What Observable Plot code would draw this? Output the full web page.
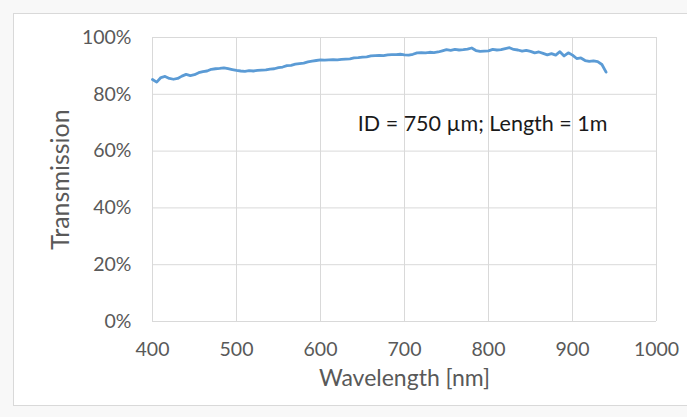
<!DOCTYPE html>
<html>
<head>
<meta charset="utf-8">
<script src="https://cdn.jsdelivr.net/npm/d3@7"></script>
<script src="https://cdn.jsdelivr.net/npm/@observablehq/plot@0.6"></script>
<style>
  html, body { margin: 0; padding: 0; width: 687px; height: 417px; overflow: hidden; background: #f8f8f8; }
  #panel { position: absolute; left: 13px; top: 13px; width: 700px; height: 393px; background: #fff; border: 1px solid #d9d9d9; box-sizing: border-box; }
  #chart { position: absolute; left: 0; top: 0; }
</style>
</head>
<body>
<div id="panel"></div>
<div id="chart"></div>
<script>
const wavelengths = [400,405,410,415,420,425,430,435,440,445,450,455,460,465,470,475,480,485,490,495,
  500,505,510,515,520,525,530,535,540,545,550,555,560,565,570,575,580,585,590,595,
  600,605,610,615,620,625,630,635,640,645,650,655,660,665,670,675,680,685,690,695,
  700,705,710,715,720,725,730,735,740,745,750,755,760,765,770,775,780,785,790,795,
  800,805,810,815,820,825,830,835,840,845,850,855,860,865,870,875,880,885,890,895,
  900,905,910,915,920,925,930,935,940];
const transmission = [85.2,84.3,85.9,86.3,85.6,85.3,85.6,86.4,87.0,86.6,86.9,87.6,88.0,88.2,88.8,89.0,89.1,89.3,89.0,88.7,
  88.4,88.2,88.1,88.3,88.2,88.4,88.5,88.6,88.9,89.0,89.4,89.6,90.1,90.2,90.6,90.8,91.0,91.4,91.7,91.9,
  92.1,92.0,92.1,92.2,92.1,92.3,92.4,92.5,92.8,92.9,93.1,93.2,93.5,93.6,93.7,93.6,93.9,94.0,94.0,94.1,
  93.9,93.8,94.1,94.6,94.7,94.6,94.8,94.7,94.9,95.3,95.7,95.5,95.8,95.6,95.7,95.9,96.3,95.4,95.1,95.2,
  95.3,95.8,95.6,95.7,96.1,96.4,95.8,95.6,95.2,95.5,95.1,94.6,94.9,94.4,93.9,94.3,93.8,95.0,93.5,94.6,
  93.8,92.6,92.8,91.9,91.6,91.8,91.5,90.5,87.8];
const xTicks = [400,500,600,700,800,900,1000];
const yTicks = [0,20,40,60,80,100];
const xTitle = "Wavelength [nm]";
const yTitle = "Transmission";
const noteText = ["ID = 750 µm; Length = 1m"];
const noteX = [793];
const noteY = [69.4];

const data = wavelengths.map((w, i) => ({w, t: transmission[i]}));
const notes = noteText.map((s, i) => ({s, x: noteX[i], y: noteY[i]}));

const chart = Plot.plot({
  width: 687,
  height: 417,
  marginLeft: 152,
  marginRight: 31,
  marginTop: 37,
  marginBottom: 96,
  style: { fontFamily: "Lato, 'Open Sans', sans-serif", fontSize: "20px", color: "#595959", background: "transparent", overflow: "visible" },
  x: { domain: [400, 1000] },
  y: { domain: [0, 100] },
  marks: [
    Plot.gridX(xTicks, { stroke: "#d9d9d9", strokeOpacity: 1 }),
    Plot.gridY(yTicks, { stroke: "#d9d9d9", strokeOpacity: 1 }),
    Plot.axisX({ ticks: xTicks, tickSize: 0, tickPadding: 21, label: null, tickFormat: d => String(d), fontSize: 19.5 }),
    Plot.axisY({ ticks: yTicks, tickSize: 0, tickPadding: 21, label: null, tickFormat: d => d + "%", fontSize: 19.5 }),
    Plot.line(data, { x: "w", y: "t", stroke: "#5b9bd5", strokeWidth: 2.8 }),
    Plot.text(notes, { x: "x", y: "y", text: "s", fill: "#1a1a1a", fontSize: 21.5 }),
    Plot.text([xTitle], { frameAnchor: "bottom", dy: 64, fontSize: 23, fill: "#595959" }),
    Plot.text([yTitle], { frameAnchor: "left", textAnchor: "middle", dx: -92, rotate: -90, fontSize: 25, fill: "#595959" })
  ]
});
document.getElementById("chart").appendChild(chart);
</script>
</body>
</html>
